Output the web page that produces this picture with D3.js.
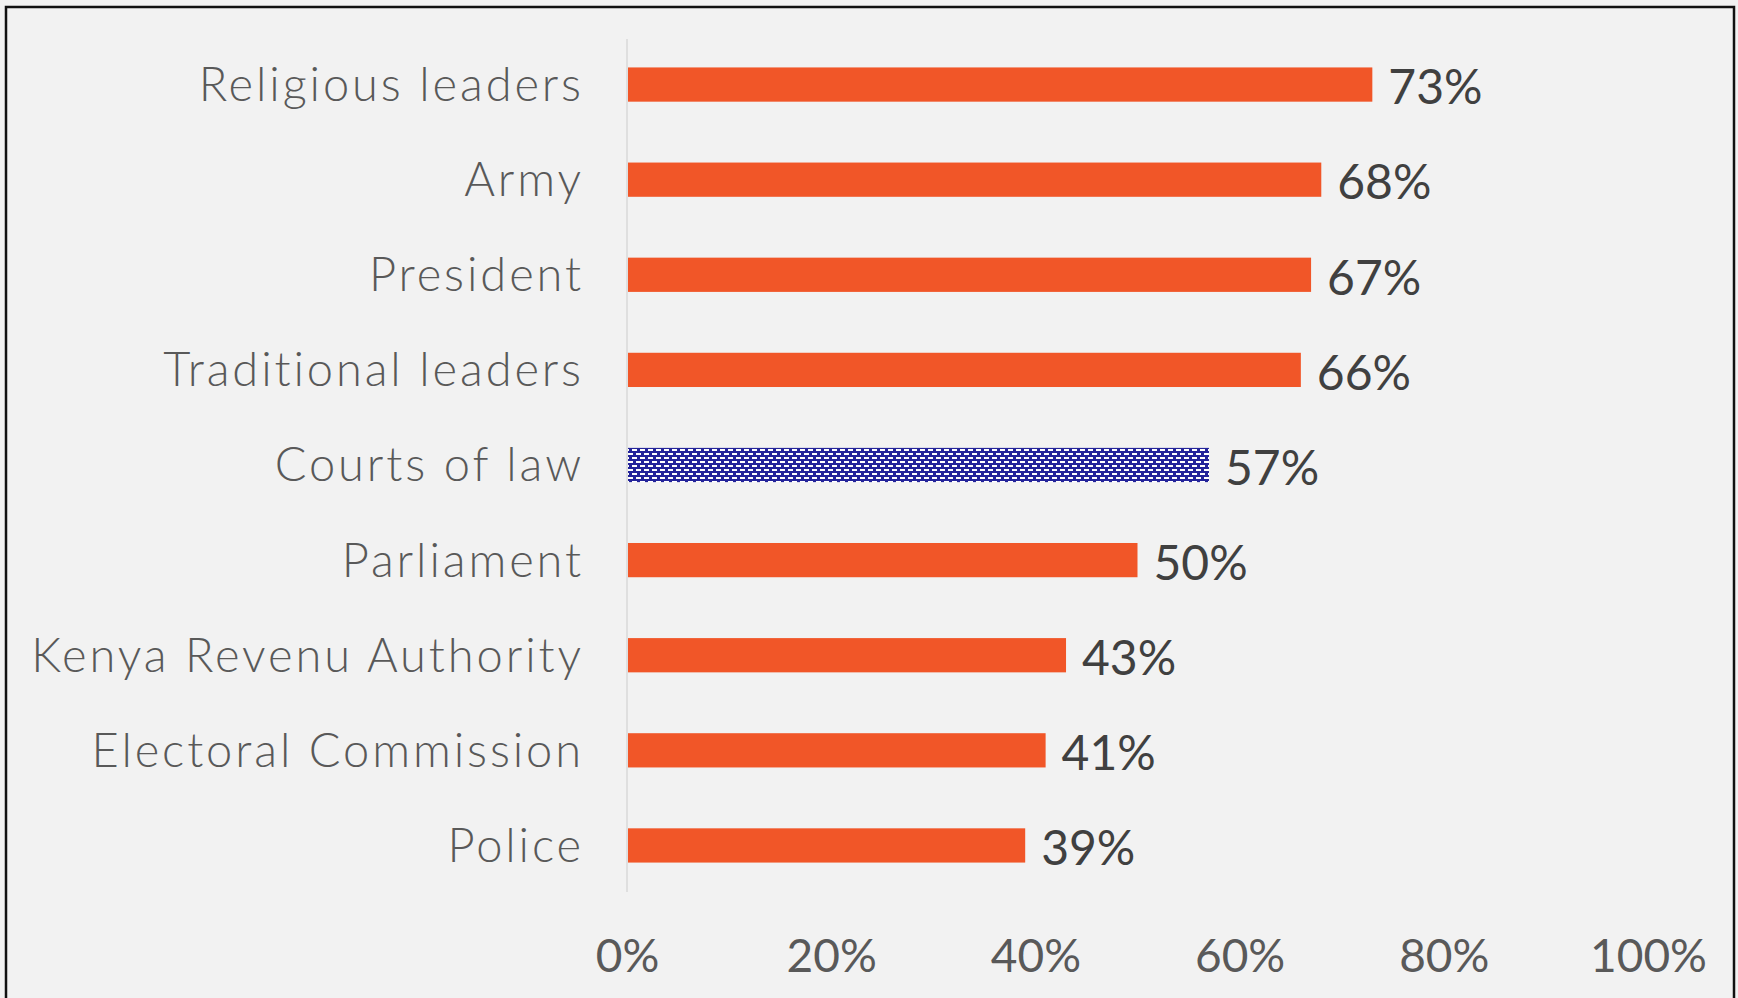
<!DOCTYPE html>
<html>
<head>
<meta charset="utf-8">
<script src="https://cdn.jsdelivr.net/npm/d3@7"></script>
<style>
  html, body { margin: 0; padding: 0; background: #f2f2f2; }
  svg { display: block; }
</style>
</head>
<body>
<div id="renderDiv"></div>
<script>
// trust in institutions (share of respondents)
const categories = ["Religious leaders", "Army", "President", "Traditional leaders",
  "Courts of law", "Parliament", "Kenya Revenu Authority", "Electoral Commission", "Police"];
const values = [0.73, 0.68, 0.67, 0.66, 0.57, 0.50, 0.43, 0.41, 0.39];
const highlighted = ["Courts of law"];
const tickValues = [0, 0.2, 0.4, 0.6, 0.8, 1.0];

const SVGWIDTH = 1738, SVGHEIGHT = 998;
const bgcolor = "#f2f2f2";
const barColor = "#f15628";
const hiColor = "#24249a";
const labelFont = "Lato, 'Open Sans', sans-serif";

let data = categories.map(function (c, i) { return { label: c, value: values[i] }; });

let svg = d3.select("#renderDiv").append("svg")
  .attr("width", SVGWIDTH).attr("height", SVGHEIGHT)
  .style("background-color", bgcolor);

// dashed brick fill for the highlighted bar
let pat = svg.append("defs").append("pattern")
  .attr("id", "dashFill").attr("patternUnits", "userSpaceOnUse")
  .attr("width", 8).attr("height", 8);
pat.append("rect").attr("width", 8).attr("height", 8).attr("fill", hiColor);
pat.append("rect").attr("x", 0).attr("y", 1).attr("width", 5).attr("height", 2).attr("fill", "#fff");
pat.append("rect").attr("x", 4).attr("y", 5).attr("width", 5).attr("height", 2).attr("fill", "#fff");
pat.append("rect").attr("x", -4).attr("y", 5).attr("width", 5).attr("height", 2).attr("fill", "#fff");

let xScale = d3.scaleLinear().domain([0, 1]).range([627, 1648]);
let yScale = d3.scaleBand().domain(categories).range([37, 893])
  .paddingInner(0.64).paddingOuter(0.32);

// vertical axis line
svg.append("line")
  .attr("x1", xScale(0)).attr("x2", xScale(0))
  .attr("y1", 39).attr("y2", 892)
  .attr("stroke", "#d9d9d9").attr("stroke-width", 1.5);

// bars
svg.append("g").selectAll("rect")
  .data(data)
  .enter().append("rect")
  .attr("x", xScale(0) + 1)
  .attr("y", function (d) { return yScale(d.label); })
  .attr("width", function (d) { return xScale(d.value) - xScale(0) - 1; })
  .attr("height", yScale.bandwidth())
  .attr("fill", function (d) {
    return highlighted.indexOf(d.label) >= 0 ? "url(#dashFill)" : barColor;
  });

// category labels
svg.append("g").selectAll("text")
  .data(data)
  .enter().append("text")
  .attr("x", 584)
  .attr("y", function (d) { return yScale(d.label) + yScale.bandwidth() / 2; })
  .attr("dy", "0.35em")
  .attr("text-anchor", "end")
  .attr("font-family", labelFont).attr("font-size", "47px")
  .attr("font-weight", 300)
  .attr("letter-spacing", "2.9px")
  .attr("fill", "#595959")
  .text(function (d) { return d.label; });

// value labels
svg.append("g").selectAll("text")
  .data(data)
  .enter().append("text")
  .attr("x", function (d) { return xScale(d.value) + 16; })
  .attr("y", function (d) { return yScale(d.label) + yScale.bandwidth() / 2 + 3; })
  .attr("dy", "0.35em")
  .attr("font-family", labelFont).attr("font-size", "48px")
  .attr("fill", "#404040")
  .text(function (d) { return Math.round(d.value * 100) + "%"; });

// x axis tick labels
let xAxis = d3.axisBottom(xScale).tickValues(tickValues)
  .tickFormat(d3.format(".0%")).tickSize(0).tickPadding(0);
let ax = svg.append("g").attr("transform", "translate(0,956)").call(xAxis);
ax.select(".domain").remove();
ax.selectAll("text")
  .attr("dy", "0.35em")
  .attr("font-family", labelFont).attr("font-size", "46px")
  .attr("fill", "#595959");

// frame
svg.append("rect")
  .attr("x", 6).attr("y", 7).attr("width", 1728).attr("height", 1100)
  .attr("fill", "none").attr("stroke", "#111").attr("stroke-width", 2.5);
</script>
</body>
</html>
